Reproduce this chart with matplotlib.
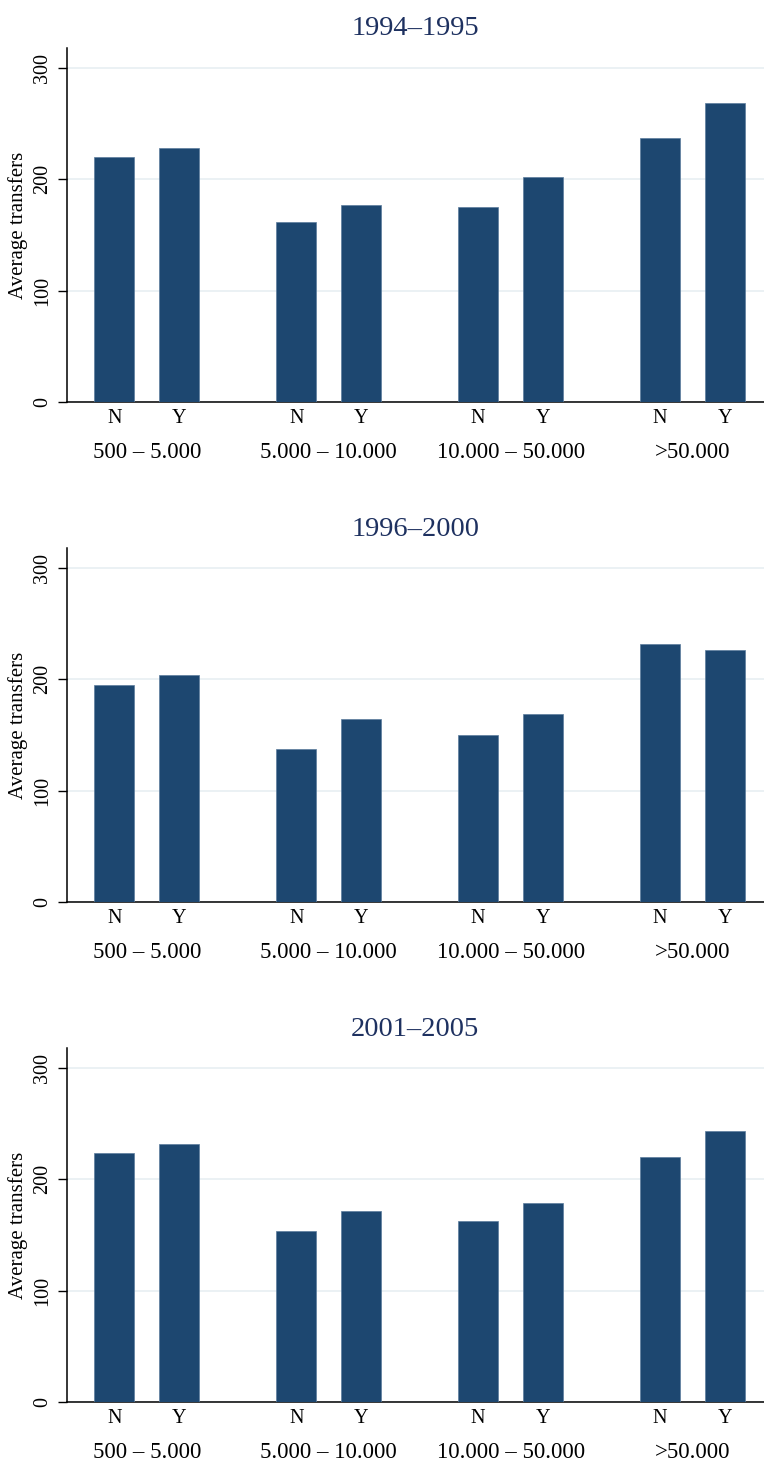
import matplotlib
matplotlib.use("Agg")
import matplotlib.pyplot as plt
from matplotlib.transforms import blended_transform_factory

plt.rcParams['font.family'] = ['Liberation Serif', 'DejaVu Serif']

# Population size groups and treatment status
groups = ["500 \u2013 5.000", "5.000 \u2013 10.000", "10.000 \u2013 50.000", ">50.000"]
status = ["N", "Y"]
periods = ["1994\u20131995", "1996\u20132000", "2001\u20132005"]

# Average transfers, per period: [N, Y] for each size group
transfers_1994_1995 = [[220, 228], [162, 177], [175, 202], [237, 269]]
transfers_1996_2000 = [[195, 204], [137, 164], [150, 169], [232, 226]]
transfers_2001_2005 = [[224, 232], [154, 172], [163, 179], [220, 243]]
panels = [transfers_1994_1995, transfers_1996_2000, transfers_2001_2005]

yticks = [0, 100, 200, 300]

bar_color = "#1d4770"
title_color = "#1e3160"
grid_color = "#e7eff2"

fig = plt.figure(figsize=(7.64, 14.63), dpi=100)

H = 1463.0
W = 764.0
left = 66.7 / W
width = 1.0 - left
axis_bottoms_px = [402, 902, 1402]
axis_height = 354 / H

group_step = 2.8
bar_step = 1.0
bar_width = 0.615

for values, period, bottom_px in zip(panels, periods, axis_bottoms_px):
    ax = fig.add_axes([left, (H - bottom_px) / H, width, axis_height])
    xs, hs, labels = [], [], []
    for g, pair in enumerate(values):
        for s, v in enumerate(pair):
            xs.append(g * group_step + s * bar_step)
            hs.append(v)
            labels.append(status[s])
    ax.bar(xs, hs, width=bar_width, color=bar_color,
           edgecolor="#5b7c9c", linewidth=0.5, zorder=3)

    ax.set_ylim(0, 318)
    ax.set_xlim(-0.732, 10.0)
    ax.set_yticks(yticks)
    ax.set_yticklabels([str(t) for t in yticks], rotation=90, va="center",
                       fontsize=14.5)
    ax.set_xticks(xs)
    ax.set_xticklabels(labels, fontsize=14.5)
    ax.tick_params(axis="x", length=0, pad=5)
    ax.tick_params(axis="y", length=6.5, width=1, direction="out", pad=4)
    ax.grid(axis="y", color=grid_color, linewidth=1.2, zorder=0)
    ax.set_axisbelow(True)
    for side in ("top", "right"):
        ax.spines[side].set_visible(False)
    ax.spines["left"].set_linewidth(1.1)
    ax.spines["bottom"].set_linewidth(1.1)

    ax.set_ylabel("Average transfers", fontsize=15, labelpad=4)
    ax.set_title(period, fontsize=20.5, color=title_color, pad=9,
                 x=0.5)

    trans = blended_transform_factory(ax.transData, ax.transAxes)
    for g, name in enumerate(groups):
        cx = g * group_step + bar_step / 2
        ax.annotate(name, xy=(cx, 0), xycoords=trans,
                    xytext=(0, -36.5), textcoords="offset points",
                    ha="center", va="center", fontsize=16.5)

fig.savefig("out.png", dpi=100, facecolor="white")
